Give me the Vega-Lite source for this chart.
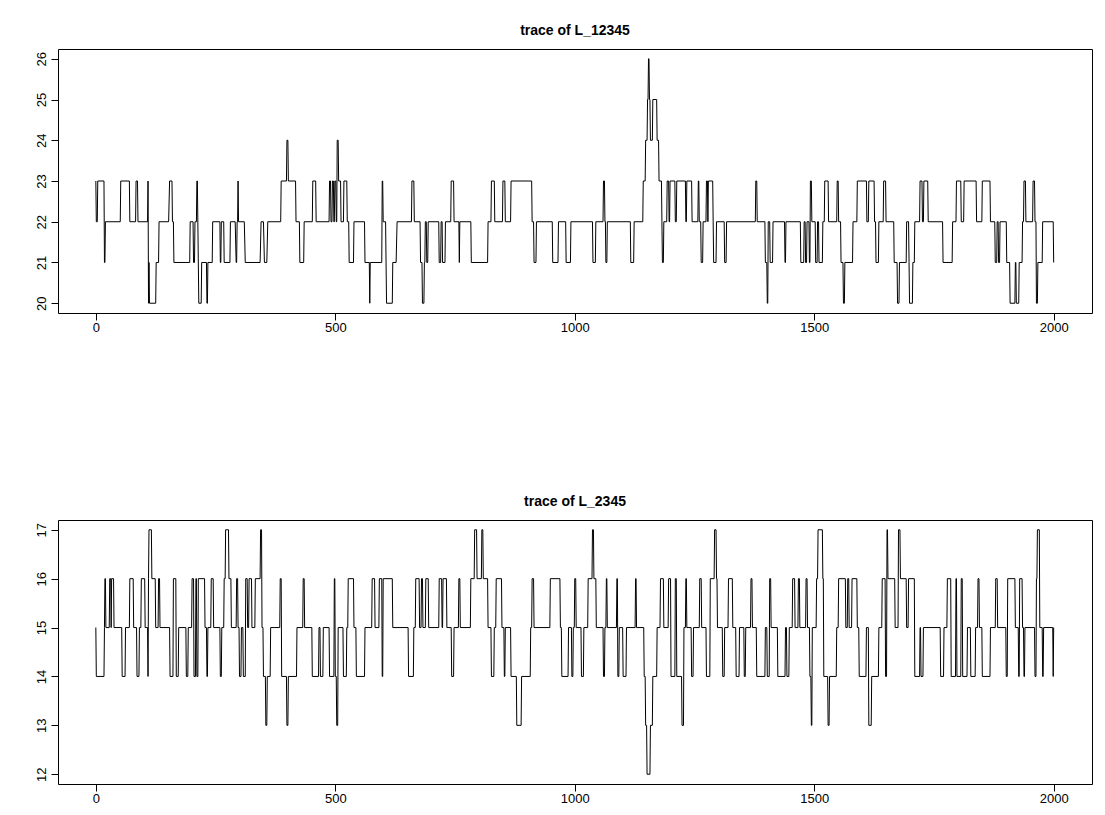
{
"$schema": "https://vega.github.io/schema/vega-lite/v6.json",
"background": "white",
"padding": {"left": 34, "top": 23, "right": 14, "bottom": 5},
"spacing": 159,
"config": {
 "view": {"stroke": "black", "strokeWidth": 1},
 "axis": {"grid": false, "domain": false, "tickColor": "black", "tickSize": 7, "labelColor": "black", "labelFont": "Liberation Sans", "labelFontSize": 13, "labelPadding": 1},
 "title": {"font": "Liberation Sans", "fontSize": 14, "fontWeight": "bold", "color": "black", "offset": 11, "anchor": "middle"}
},
"datasets": {
"top": [
{"i":0,"v":23},{"i":1,"v":22},{"i":3,"v":22},{"i":4,"v":23},{"i":17,"v":23},{"i":18,"v":21},{"i":19,"v":21},{"i":20,"v":22},{"i":51,"v":22},{"i":52,"v":23},{"i":70,"v":23},{"i":71,"v":22},{"i":83,"v":22},{"i":84,"v":23},{"i":87,"v":23},{"i":88,"v":22},{"i":108,"v":22},{"i":109,"v":23},{"i":110,"v":20},{"i":111,"v":21},{"i":112,"v":20},{"i":125,"v":20},{"i":126,"v":21},{"i":131,"v":21},{"i":132,"v":22},{"i":152,"v":22},{"i":154,"v":23},{"i":159,"v":23},{"i":160,"v":22},{"i":162,"v":22},{"i":163,"v":21},{"i":196,"v":21},{"i":197,"v":22},{"i":203,"v":22},{"i":204,"v":21},{"i":206,"v":21},{"i":207,"v":22},{"i":210,"v":22},{"i":211,"v":23},{"i":212,"v":23},{"i":215,"v":20},{"i":220,"v":20},{"i":221,"v":21},{"i":231,"v":21},{"i":232,"v":20},{"i":233,"v":20},{"i":234,"v":21},{"i":243,"v":21},{"i":244,"v":22},{"i":259,"v":22},{"i":260,"v":21},{"i":261,"v":21},{"i":262,"v":22},{"i":267,"v":22},{"i":268,"v":21},{"i":280,"v":21},{"i":281,"v":22},{"i":291,"v":22},{"i":293,"v":21},{"i":294,"v":21},{"i":295,"v":22},{"i":296,"v":22},{"i":297,"v":23},{"i":298,"v":22},{"i":310,"v":22},{"i":312,"v":21},{"i":343,"v":21},{"i":345,"v":22},{"i":350,"v":22},{"i":352,"v":21},{"i":357,"v":21},{"i":359,"v":22},{"i":386,"v":22},{"i":387,"v":23},{"i":398,"v":23},{"i":399,"v":24},{"i":401,"v":24},{"i":402,"v":23},{"i":417,"v":23},{"i":418,"v":22},{"i":425,"v":22},{"i":426,"v":21},{"i":434,"v":21},{"i":435,"v":22},{"i":452,"v":22},{"i":453,"v":23},{"i":459,"v":23},{"i":460,"v":22},{"i":487,"v":22},{"i":488,"v":23},{"i":490,"v":23},{"i":491,"v":22},{"i":493,"v":22},{"i":494,"v":23},{"i":496,"v":23},{"i":497,"v":22},{"i":498,"v":22},{"i":499,"v":23},{"i":501,"v":23},{"i":502,"v":22},{"i":503,"v":22},{"i":504,"v":24},{"i":506,"v":24},{"i":507,"v":23},{"i":511,"v":23},{"i":512,"v":22},{"i":517,"v":22},{"i":518,"v":23},{"i":524,"v":23},{"i":525,"v":22},{"i":528,"v":22},{"i":529,"v":21},{"i":538,"v":21},{"i":539,"v":22},{"i":561,"v":22},{"i":562,"v":21},{"i":571,"v":21},{"i":572,"v":20},{"i":573,"v":21},{"i":597,"v":21},{"i":598,"v":23},{"i":599,"v":23},{"i":600,"v":22},{"i":605,"v":22},{"i":607,"v":20},{"i":619,"v":20},{"i":620,"v":21},{"i":627,"v":21},{"i":629,"v":22},{"i":659,"v":22},{"i":660,"v":23},{"i":664,"v":23},{"i":665,"v":22},{"i":677,"v":22},{"i":678,"v":21},{"i":681,"v":21},{"i":682,"v":20},{"i":685,"v":20},{"i":686,"v":21},{"i":687,"v":21},{"i":688,"v":22},{"i":690,"v":22},{"i":691,"v":21},{"i":693,"v":21},{"i":694,"v":22},{"i":716,"v":22},{"i":717,"v":21},{"i":720,"v":21},{"i":721,"v":22},{"i":723,"v":22},{"i":724,"v":21},{"i":729,"v":21},{"i":730,"v":22},{"i":741,"v":22},{"i":742,"v":23},{"i":747,"v":23},{"i":748,"v":22},{"i":758,"v":22},{"i":759,"v":21},{"i":760,"v":22},{"i":783,"v":22},{"i":784,"v":21},{"i":818,"v":21},{"i":819,"v":22},{"i":825,"v":22},{"i":826,"v":23},{"i":832,"v":23},{"i":833,"v":22},{"i":849,"v":22},{"i":850,"v":23},{"i":854,"v":23},{"i":855,"v":22},{"i":866,"v":22},{"i":867,"v":23},{"i":910,"v":23},{"i":911,"v":22},{"i":914,"v":22},{"i":915,"v":21},{"i":919,"v":21},{"i":920,"v":22},{"i":953,"v":22},{"i":954,"v":21},{"i":965,"v":21},{"i":966,"v":22},{"i":981,"v":22},{"i":982,"v":21},{"i":991,"v":21},{"i":992,"v":22},{"i":1037,"v":22},{"i":1038,"v":21},{"i":1043,"v":21},{"i":1044,"v":22},{"i":1059,"v":22},{"i":1060,"v":23},{"i":1062,"v":23},{"i":1063,"v":22},{"i":1064,"v":22},{"i":1065,"v":21},{"i":1067,"v":21},{"i":1068,"v":22},{"i":1116,"v":22},{"i":1117,"v":21},{"i":1123,"v":21},{"i":1124,"v":22},{"i":1142,"v":22},{"i":1143,"v":23},{"i":1147,"v":23},{"i":1148,"v":24},{"i":1151,"v":24},{"i":1152,"v":25},{"i":1153,"v":25},{"i":1154,"v":26},{"i":1155,"v":26},{"i":1156,"v":25},{"i":1157,"v":25},{"i":1158,"v":24},{"i":1162,"v":24},{"i":1163,"v":25},{"i":1171,"v":25},{"i":1172,"v":24},{"i":1175,"v":24},{"i":1176,"v":23},{"i":1181,"v":23},{"i":1182,"v":22},{"i":1183,"v":21},{"i":1185,"v":21},{"i":1186,"v":22},{"i":1192,"v":22},{"i":1193,"v":23},{"i":1196,"v":23},{"i":1197,"v":22},{"i":1198,"v":22},{"i":1199,"v":23},{"i":1209,"v":23},{"i":1210,"v":22},{"i":1212,"v":22},{"i":1213,"v":23},{"i":1231,"v":23},{"i":1232,"v":22},{"i":1233,"v":22},{"i":1234,"v":23},{"i":1244,"v":23},{"i":1245,"v":22},{"i":1257,"v":22},{"i":1258,"v":23},{"i":1259,"v":23},{"i":1260,"v":22},{"i":1263,"v":22},{"i":1264,"v":21},{"i":1267,"v":21},{"i":1268,"v":22},{"i":1274,"v":22},{"i":1275,"v":23},{"i":1277,"v":23},{"i":1278,"v":22},{"i":1279,"v":23},{"i":1288,"v":23},{"i":1289,"v":22},{"i":1290,"v":21},{"i":1295,"v":21},{"i":1296,"v":22},{"i":1312,"v":22},{"i":1313,"v":21},{"i":1316,"v":21},{"i":1317,"v":22},{"i":1377,"v":22},{"i":1378,"v":23},{"i":1380,"v":23},{"i":1381,"v":22},{"i":1397,"v":22},{"i":1398,"v":21},{"i":1401,"v":21},{"i":1402,"v":20},{"i":1403,"v":20},{"i":1404,"v":22},{"i":1407,"v":22},{"i":1408,"v":21},{"i":1413,"v":21},{"i":1414,"v":22},{"i":1438,"v":22},{"i":1439,"v":21},{"i":1440,"v":21},{"i":1441,"v":22},{"i":1471,"v":22},{"i":1472,"v":21},{"i":1478,"v":21},{"i":1479,"v":22},{"i":1481,"v":22},{"i":1482,"v":21},{"i":1484,"v":21},{"i":1485,"v":22},{"i":1489,"v":22},{"i":1490,"v":21},{"i":1491,"v":21},{"i":1492,"v":23},{"i":1494,"v":23},{"i":1495,"v":22},{"i":1502,"v":22},{"i":1503,"v":21},{"i":1506,"v":21},{"i":1507,"v":22},{"i":1509,"v":22},{"i":1510,"v":21},{"i":1517,"v":21},{"i":1518,"v":22},{"i":1521,"v":22},{"i":1522,"v":23},{"i":1529,"v":23},{"i":1530,"v":22},{"i":1547,"v":22},{"i":1548,"v":23},{"i":1550,"v":23},{"i":1551,"v":22},{"i":1555,"v":22},{"i":1556,"v":21},{"i":1560,"v":21},{"i":1561,"v":20},{"i":1563,"v":20},{"i":1564,"v":21},{"i":1580,"v":21},{"i":1581,"v":22},{"i":1589,"v":22},{"i":1590,"v":23},{"i":1609,"v":23},{"i":1610,"v":22},{"i":1613,"v":22},{"i":1614,"v":23},{"i":1625,"v":23},{"i":1626,"v":22},{"i":1628,"v":22},{"i":1629,"v":21},{"i":1634,"v":21},{"i":1635,"v":22},{"i":1644,"v":22},{"i":1645,"v":23},{"i":1649,"v":23},{"i":1650,"v":22},{"i":1666,"v":22},{"i":1667,"v":21},{"i":1673,"v":21},{"i":1674,"v":20},{"i":1677,"v":20},{"i":1678,"v":21},{"i":1692,"v":21},{"i":1693,"v":22},{"i":1697,"v":22},{"i":1698,"v":21},{"i":1699,"v":20},{"i":1705,"v":20},{"i":1706,"v":21},{"i":1709,"v":21},{"i":1710,"v":22},{"i":1720,"v":22},{"i":1721,"v":23},{"i":1725,"v":23},{"i":1726,"v":22},{"i":1728,"v":22},{"i":1729,"v":23},{"i":1737,"v":23},{"i":1738,"v":22},{"i":1768,"v":22},{"i":1769,"v":21},{"i":1788,"v":21},{"i":1789,"v":22},{"i":1796,"v":22},{"i":1797,"v":23},{"i":1806,"v":23},{"i":1807,"v":22},{"i":1812,"v":22},{"i":1813,"v":23},{"i":1838,"v":23},{"i":1839,"v":22},{"i":1850,"v":22},{"i":1851,"v":23},{"i":1867,"v":23},{"i":1868,"v":22},{"i":1877,"v":22},{"i":1878,"v":21},{"i":1881,"v":21},{"i":1882,"v":22},{"i":1884,"v":22},{"i":1885,"v":21},{"i":1887,"v":21},{"i":1888,"v":22},{"i":1901,"v":22},{"i":1902,"v":21},{"i":1908,"v":21},{"i":1909,"v":20},{"i":1919,"v":20},{"i":1920,"v":21},{"i":1921,"v":21},{"i":1922,"v":20},{"i":1927,"v":20},{"i":1928,"v":21},{"i":1934,"v":21},{"i":1935,"v":22},{"i":1937,"v":22},{"i":1938,"v":23},{"i":1941,"v":23},{"i":1942,"v":22},{"i":1956,"v":22},{"i":1957,"v":23},{"i":1960,"v":23},{"i":1961,"v":22},{"i":1963,"v":22},{"i":1964,"v":20},{"i":1966,"v":20},{"i":1967,"v":21},{"i":1976,"v":21},{"i":1977,"v":22},{"i":1999,"v":22},{"i":2000,"v":21}
],
"bot": [
{"i":0,"v":15},{"i":1,"v":14},{"i":17,"v":14},{"i":18,"v":15},{"i":19,"v":16},{"i":20,"v":16},{"i":21,"v":15},{"i":28,"v":15},{"i":29,"v":16},{"i":31,"v":16},{"i":32,"v":15},{"i":33,"v":16},{"i":37,"v":16},{"i":38,"v":15},{"i":54,"v":15},{"i":55,"v":14},{"i":61,"v":14},{"i":62,"v":15},{"i":70,"v":15},{"i":71,"v":16},{"i":78,"v":16},{"i":79,"v":15},{"i":85,"v":15},{"i":86,"v":14},{"i":90,"v":14},{"i":91,"v":15},{"i":94,"v":15},{"i":95,"v":16},{"i":102,"v":16},{"i":103,"v":15},{"i":108,"v":15},{"i":109,"v":14},{"i":110,"v":16},{"i":111,"v":17},{"i":116,"v":17},{"i":117,"v":16},{"i":124,"v":16},{"i":125,"v":15},{"i":130,"v":15},{"i":131,"v":16},{"i":133,"v":16},{"i":134,"v":15},{"i":154,"v":15},{"i":155,"v":14},{"i":161,"v":14},{"i":162,"v":16},{"i":167,"v":16},{"i":168,"v":14},{"i":172,"v":14},{"i":173,"v":15},{"i":188,"v":15},{"i":189,"v":14},{"i":192,"v":14},{"i":193,"v":15},{"i":200,"v":15},{"i":201,"v":16},{"i":204,"v":16},{"i":205,"v":14},{"i":208,"v":14},{"i":209,"v":16},{"i":210,"v":16},{"i":211,"v":14},{"i":213,"v":14},{"i":214,"v":16},{"i":227,"v":16},{"i":228,"v":15},{"i":231,"v":15},{"i":232,"v":14},{"i":233,"v":14},{"i":234,"v":15},{"i":240,"v":15},{"i":241,"v":16},{"i":245,"v":16},{"i":246,"v":15},{"i":259,"v":15},{"i":260,"v":14},{"i":262,"v":14},{"i":263,"v":15},{"i":267,"v":15},{"i":268,"v":16},{"i":270,"v":16},{"i":271,"v":17},{"i":277,"v":17},{"i":278,"v":16},{"i":282,"v":16},{"i":283,"v":15},{"i":293,"v":15},{"i":294,"v":16},{"i":296,"v":16},{"i":297,"v":15},{"i":299,"v":15},{"i":300,"v":14},{"i":303,"v":14},{"i":304,"v":15},{"i":307,"v":15},{"i":308,"v":14},{"i":312,"v":14},{"i":313,"v":16},{"i":316,"v":16},{"i":317,"v":15},{"i":319,"v":15},{"i":320,"v":16},{"i":325,"v":16},{"i":326,"v":15},{"i":332,"v":15},{"i":333,"v":16},{"i":343,"v":16},{"i":344,"v":17},{"i":346,"v":17},{"i":347,"v":15},{"i":349,"v":15},{"i":350,"v":14},{"i":354,"v":14},{"i":355,"v":13},{"i":357,"v":13},{"i":358,"v":14},{"i":364,"v":14},{"i":365,"v":15},{"i":384,"v":15},{"i":385,"v":16},{"i":387,"v":16},{"i":388,"v":14},{"i":398,"v":14},{"i":399,"v":13},{"i":401,"v":13},{"i":402,"v":14},{"i":419,"v":14},{"i":420,"v":15},{"i":432,"v":15},{"i":433,"v":16},{"i":435,"v":16},{"i":436,"v":15},{"i":451,"v":15},{"i":452,"v":14},{"i":465,"v":14},{"i":466,"v":15},{"i":468,"v":15},{"i":469,"v":14},{"i":474,"v":14},{"i":475,"v":15},{"i":487,"v":15},{"i":488,"v":14},{"i":497,"v":14},{"i":498,"v":16},{"i":499,"v":16},{"i":500,"v":14},{"i":502,"v":14},{"i":503,"v":13},{"i":505,"v":13},{"i":506,"v":15},{"i":516,"v":15},{"i":517,"v":14},{"i":523,"v":14},{"i":524,"v":15},{"i":526,"v":15},{"i":527,"v":16},{"i":538,"v":16},{"i":539,"v":15},{"i":543,"v":15},{"i":544,"v":14},{"i":561,"v":14},{"i":562,"v":15},{"i":576,"v":15},{"i":577,"v":16},{"i":582,"v":16},{"i":583,"v":15},{"i":591,"v":15},{"i":592,"v":16},{"i":597,"v":16},{"i":598,"v":14},{"i":599,"v":14},{"i":600,"v":16},{"i":619,"v":16},{"i":620,"v":15},{"i":652,"v":15},{"i":653,"v":14},{"i":663,"v":14},{"i":664,"v":15},{"i":667,"v":15},{"i":668,"v":16},{"i":675,"v":16},{"i":676,"v":15},{"i":679,"v":15},{"i":680,"v":16},{"i":682,"v":16},{"i":683,"v":15},{"i":688,"v":15},{"i":689,"v":16},{"i":694,"v":16},{"i":695,"v":15},{"i":716,"v":15},{"i":717,"v":16},{"i":722,"v":16},{"i":723,"v":15},{"i":724,"v":15},{"i":725,"v":16},{"i":732,"v":16},{"i":733,"v":15},{"i":742,"v":15},{"i":743,"v":14},{"i":747,"v":14},{"i":748,"v":15},{"i":757,"v":15},{"i":758,"v":16},{"i":760,"v":16},{"i":761,"v":15},{"i":782,"v":15},{"i":783,"v":16},{"i":790,"v":16},{"i":791,"v":17},{"i":795,"v":17},{"i":796,"v":16},{"i":805,"v":16},{"i":806,"v":17},{"i":808,"v":17},{"i":809,"v":16},{"i":818,"v":16},{"i":819,"v":15},{"i":825,"v":15},{"i":826,"v":14},{"i":831,"v":14},{"i":832,"v":15},{"i":835,"v":15},{"i":836,"v":16},{"i":847,"v":16},{"i":848,"v":15},{"i":852,"v":15},{"i":853,"v":14},{"i":854,"v":14},{"i":855,"v":15},{"i":866,"v":15},{"i":867,"v":14},{"i":878,"v":14},{"i":879,"v":13},{"i":888,"v":13},{"i":889,"v":14},{"i":907,"v":14},{"i":908,"v":15},{"i":910,"v":15},{"i":911,"v":16},{"i":914,"v":16},{"i":915,"v":15},{"i":948,"v":15},{"i":949,"v":16},{"i":969,"v":16},{"i":970,"v":15},{"i":972,"v":15},{"i":973,"v":14},{"i":986,"v":14},{"i":987,"v":15},{"i":993,"v":15},{"i":994,"v":14},{"i":996,"v":14},{"i":997,"v":15},{"i":999,"v":15},{"i":1000,"v":16},{"i":1002,"v":16},{"i":1003,"v":15},{"i":1013,"v":15},{"i":1014,"v":14},{"i":1018,"v":14},{"i":1019,"v":15},{"i":1027,"v":15},{"i":1028,"v":16},{"i":1036,"v":16},{"i":1037,"v":17},{"i":1039,"v":17},{"i":1040,"v":16},{"i":1044,"v":16},{"i":1045,"v":15},{"i":1059,"v":15},{"i":1060,"v":14},{"i":1062,"v":14},{"i":1063,"v":15},{"i":1065,"v":15},{"i":1066,"v":16},{"i":1067,"v":16},{"i":1068,"v":15},{"i":1087,"v":15},{"i":1088,"v":16},{"i":1089,"v":16},{"i":1090,"v":14},{"i":1092,"v":14},{"i":1093,"v":15},{"i":1100,"v":15},{"i":1101,"v":14},{"i":1107,"v":14},{"i":1108,"v":15},{"i":1126,"v":15},{"i":1127,"v":16},{"i":1128,"v":16},{"i":1129,"v":15},{"i":1144,"v":15},{"i":1145,"v":14},{"i":1147,"v":14},{"i":1148,"v":13},{"i":1150,"v":13},{"i":1151,"v":12},{"i":1157,"v":12},{"i":1158,"v":13},{"i":1162,"v":13},{"i":1163,"v":14},{"i":1171,"v":14},{"i":1172,"v":15},{"i":1178,"v":15},{"i":1179,"v":16},{"i":1185,"v":16},{"i":1186,"v":15},{"i":1195,"v":15},{"i":1196,"v":16},{"i":1200,"v":16},{"i":1201,"v":14},{"i":1209,"v":14},{"i":1210,"v":16},{"i":1212,"v":16},{"i":1213,"v":14},{"i":1223,"v":14},{"i":1224,"v":13},{"i":1227,"v":13},{"i":1228,"v":15},{"i":1231,"v":15},{"i":1232,"v":16},{"i":1233,"v":16},{"i":1234,"v":15},{"i":1243,"v":15},{"i":1244,"v":14},{"i":1247,"v":14},{"i":1248,"v":15},{"i":1260,"v":15},{"i":1261,"v":16},{"i":1264,"v":16},{"i":1265,"v":15},{"i":1274,"v":15},{"i":1275,"v":14},{"i":1282,"v":14},{"i":1283,"v":16},{"i":1291,"v":16},{"i":1292,"v":17},{"i":1295,"v":17},{"i":1296,"v":16},{"i":1297,"v":16},{"i":1298,"v":15},{"i":1308,"v":15},{"i":1309,"v":14},{"i":1312,"v":14},{"i":1313,"v":15},{"i":1320,"v":15},{"i":1321,"v":16},{"i":1329,"v":16},{"i":1330,"v":15},{"i":1336,"v":15},{"i":1337,"v":14},{"i":1343,"v":14},{"i":1344,"v":15},{"i":1353,"v":15},{"i":1354,"v":14},{"i":1356,"v":14},{"i":1357,"v":15},{"i":1367,"v":15},{"i":1368,"v":16},{"i":1370,"v":16},{"i":1371,"v":15},{"i":1379,"v":15},{"i":1380,"v":14},{"i":1397,"v":14},{"i":1398,"v":15},{"i":1401,"v":15},{"i":1402,"v":14},{"i":1406,"v":14},{"i":1407,"v":16},{"i":1409,"v":16},{"i":1410,"v":15},{"i":1423,"v":15},{"i":1424,"v":14},{"i":1439,"v":14},{"i":1440,"v":15},{"i":1442,"v":15},{"i":1443,"v":14},{"i":1447,"v":14},{"i":1448,"v":15},{"i":1454,"v":15},{"i":1455,"v":16},{"i":1459,"v":16},{"i":1460,"v":15},{"i":1466,"v":15},{"i":1467,"v":16},{"i":1469,"v":16},{"i":1470,"v":15},{"i":1482,"v":15},{"i":1483,"v":16},{"i":1485,"v":16},{"i":1486,"v":15},{"i":1490,"v":15},{"i":1491,"v":14},{"i":1493,"v":14},{"i":1494,"v":13},{"i":1495,"v":13},{"i":1496,"v":15},{"i":1504,"v":15},{"i":1505,"v":16},{"i":1507,"v":16},{"i":1508,"v":17},{"i":1517,"v":17},{"i":1518,"v":16},{"i":1519,"v":16},{"i":1520,"v":14},{"i":1528,"v":14},{"i":1529,"v":13},{"i":1531,"v":13},{"i":1532,"v":14},{"i":1546,"v":14},{"i":1547,"v":15},{"i":1550,"v":15},{"i":1551,"v":16},{"i":1565,"v":16},{"i":1566,"v":15},{"i":1569,"v":15},{"i":1570,"v":16},{"i":1572,"v":16},{"i":1573,"v":15},{"i":1578,"v":15},{"i":1579,"v":16},{"i":1589,"v":16},{"i":1590,"v":15},{"i":1593,"v":15},{"i":1594,"v":14},{"i":1608,"v":14},{"i":1609,"v":15},{"i":1613,"v":15},{"i":1614,"v":13},{"i":1619,"v":13},{"i":1620,"v":14},{"i":1634,"v":14},{"i":1635,"v":15},{"i":1641,"v":15},{"i":1642,"v":16},{"i":1648,"v":16},{"i":1649,"v":14},{"i":1651,"v":14},{"i":1652,"v":17},{"i":1653,"v":17},{"i":1654,"v":16},{"i":1668,"v":16},{"i":1669,"v":15},{"i":1675,"v":15},{"i":1676,"v":17},{"i":1679,"v":17},{"i":1680,"v":16},{"i":1692,"v":16},{"i":1693,"v":15},{"i":1696,"v":15},{"i":1697,"v":16},{"i":1709,"v":16},{"i":1710,"v":14},{"i":1720,"v":14},{"i":1721,"v":15},{"i":1722,"v":15},{"i":1723,"v":14},{"i":1727,"v":14},{"i":1728,"v":15},{"i":1763,"v":15},{"i":1764,"v":14},{"i":1770,"v":14},{"i":1771,"v":15},{"i":1777,"v":15},{"i":1778,"v":16},{"i":1785,"v":16},{"i":1786,"v":14},{"i":1795,"v":14},{"i":1796,"v":16},{"i":1797,"v":16},{"i":1798,"v":14},{"i":1806,"v":14},{"i":1807,"v":16},{"i":1809,"v":16},{"i":1810,"v":14},{"i":1819,"v":14},{"i":1820,"v":15},{"i":1826,"v":15},{"i":1827,"v":14},{"i":1836,"v":14},{"i":1837,"v":15},{"i":1841,"v":15},{"i":1842,"v":16},{"i":1844,"v":16},{"i":1845,"v":15},{"i":1850,"v":15},{"i":1851,"v":14},{"i":1867,"v":14},{"i":1868,"v":15},{"i":1878,"v":15},{"i":1879,"v":16},{"i":1882,"v":16},{"i":1883,"v":15},{"i":1900,"v":15},{"i":1901,"v":14},{"i":1903,"v":14},{"i":1904,"v":16},{"i":1919,"v":16},{"i":1920,"v":15},{"i":1926,"v":15},{"i":1927,"v":14},{"i":1928,"v":14},{"i":1929,"v":16},{"i":1934,"v":16},{"i":1935,"v":15},{"i":1937,"v":15},{"i":1938,"v":14},{"i":1939,"v":14},{"i":1940,"v":15},{"i":1960,"v":15},{"i":1961,"v":14},{"i":1963,"v":14},{"i":1964,"v":16},{"i":1965,"v":16},{"i":1966,"v":17},{"i":1970,"v":17},{"i":1971,"v":15},{"i":1976,"v":15},{"i":1977,"v":14},{"i":1978,"v":14},{"i":1979,"v":15},{"i":1998,"v":15},{"i":1999,"v":14},{"i":2000,"v":15}
]
},
"vconcat": [
{
 "title": "trace of L_12345",
 "width": 1034, "height": 264,
 "data": {"name": "top"},
 "mark": {"type": "line", "color": "black", "strokeWidth": 1},
 "encoding": {
  "x": {"field": "i", "type": "quantitative", "scale": {"domain": [-79, 2080], "nice": false, "zero": false}, "axis": {"title": null, "values": [0, 500, 1000, 1500, 2000], "format": "d", "labelFlush": false}},
  "y": {"field": "v", "type": "quantitative", "scale": {"domain": [19.76, 26.24], "nice": false, "zero": false}, "axis": {"title": null, "values": [20, 21, 22, 23, 24, 25, 26], "format": "d", "labelAngle": -90, "labelAlign": "center", "labelBaseline": "bottom", "labelPadding": 3}}
 }
},
{
 "title": "trace of L_2345",
 "width": 1034, "height": 264,
 "data": {"name": "bot"},
 "mark": {"type": "line", "color": "black", "strokeWidth": 1},
 "encoding": {
  "x": {"field": "i", "type": "quantitative", "scale": {"domain": [-79, 2080], "nice": false, "zero": false}, "axis": {"title": null, "values": [0, 500, 1000, 1500, 2000], "format": "d", "labelFlush": false}},
  "y": {"field": "v", "type": "quantitative", "scale": {"domain": [11.8, 17.2], "nice": false, "zero": false}, "axis": {"title": null, "values": [12, 13, 14, 15, 16, 17], "format": "d", "labelAngle": -90, "labelAlign": "center", "labelBaseline": "bottom", "labelPadding": 3}}
 }
}
]
}
